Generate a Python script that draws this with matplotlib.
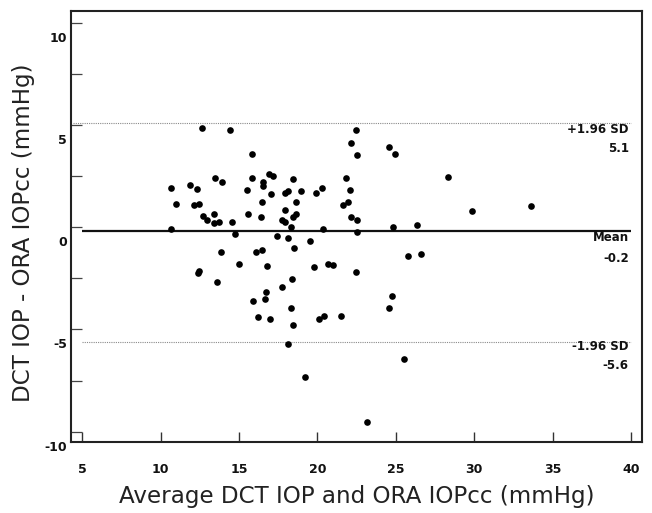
import matplotlib
matplotlib.use("Agg")
import matplotlib.pyplot as plt
from matplotlib.transforms import ScaledTranslation

# Bland-Altman data: average (x) and difference (y)
avg = [12.65, 14.44, 15.81, 15.84, 13.48, 13.89, 10.63, 11.90, 12.32, 15.49,
       10.98, 12.11, 12.46, 12.72, 12.97, 13.42, 13.38, 13.75, 14.56, 15.57,
       10.67, 14.73, 22.44, 22.14, 22.55, 16.92, 17.18, 16.50, 16.51, 18.42,
       21.82, 17.02, 18.09, 17.95, 18.96, 19.89, 20.29, 22.08, 16.44, 18.60,
       21.64, 21.92, 17.93, 16.40, 18.47, 18.63, 17.74, 17.93, 22.17, 22.50,
       18.31, 20.35, 22.50, 17.44, 18.09, 19.53, 24.58, 24.96, 28.32, 29.87,
       33.59, 24.84, 26.38, 13.85, 16.08, 16.46, 18.52, 15.02, 12.35, 12.46,
       13.59, 15.89, 16.21, 16.76, 19.78, 20.65, 21.01, 22.44, 18.40, 17.74,
       16.71, 16.65, 18.30, 16.97, 20.12, 20.42, 21.48, 18.42, 18.09, 19.21,
       25.76, 26.59, 24.76, 24.58, 25.50, 23.14]
diff = [4.85, 4.77, 3.56, 2.42, 2.38, 2.19, 1.91, 2.06, 1.88, 1.83,
        1.13, 1.09, 1.13, 0.56, 0.35, 0.63, 0.18, 0.27, 0.24, 0.63,
        -0.10, -0.35, 4.74, 4.10, 3.52, 2.59, 2.51, 2.20, 2.03, 2.36,
        2.40, 1.64, 1.79, 1.67, 1.78, 1.68, 1.91, 1.83, 1.25, 1.21,
        1.10, 1.22, 0.84, 0.51, 0.51, 0.62, 0.35, 0.24, 0.51, 0.35,
        0.00, -0.08, -0.25, -0.43, -0.53, -0.67, 3.91, 3.59, 2.46, 0.78,
        1.01, 0.00, 0.11, -1.23, -1.23, -1.11, -1.03, -1.81, -2.22, -2.16,
        -2.67, -3.61, -4.39, -1.88, -1.93, -1.81, -1.85, -2.18, -2.52, -2.91,
        -3.18, -3.51, -3.97, -4.50, -4.49, -4.33, -4.33, -4.80, -5.73, -7.34,
        -1.40, -1.30, -3.35, -3.97, -6.43, -9.51]

mean_diff = -0.2
upper_loa = 5.1
lower_loa = -5.6

x_ticks = [5, 10, 15, 20, 25, 30, 35, 40]
y_ticks = [-10, -7.5, -5, -2.5, 0, 2.5, 5, 7.5, 10]
y_ticklabels = ['-10', '', '-5', '', '0', '', '5', '', '10']

fig = plt.figure(figsize=(6.52, 5.13), dpi=100)
ax = fig.add_axes([0.1089, 0.139, 0.8762, 0.8396])

ax.set_xlim(4.28, 40.72)
ax.set_ylim(-10.49, 10.57)

# reference lines
ax.hlines(upper_loa, 4.4, 40, colors='#8a8a8a', linestyles=(0, (1, 1)), linewidth=0.8, zorder=1)
ax.hlines(lower_loa, 5, 40, colors='#8a8a8a', linestyles=(0, (1, 1)), linewidth=0.8, zorder=1)
ax.hlines(mean_diff, 5, 40, colors='#111111', linewidth=1.6, zorder=1)

ax.plot(avg, diff, 'o', color='black', markersize=4.8, markeredgewidth=0, zorder=3)

tfont = dict(fontsize=8.5, fontweight='bold', color='#111111', ha='right', va='center')
ax.text(39.85, 4.79, '+1.96 SD', **tfont)
ax.text(39.85, 3.84, f'{upper_loa:.1f}', **tfont)
ax.text(39.85, -0.50, 'Mean', **tfont)
ax.text(39.85, -1.52, f'{mean_diff:.1f}', **tfont)
ax.text(39.85, -5.83, '-1.96 SD', **tfont)
ax.text(39.85, -6.78, f'{lower_loa:.1f}', **tfont)

for s in ax.spines.values():
    s.set_linewidth(1.5)
    s.set_color('#222222')

ax.set_xticks(x_ticks)
ax.set_xticklabels([str(v) for v in x_ticks])
ax.set_yticks(y_ticks)
ax.set_yticklabels(y_ticklabels)
ax.tick_params(axis='x', direction='in', length=7.2, width=1.0, color='#333333', pad=15,
               labelsize=9)
ax.tick_params(axis='y', direction='in', length=8, width=0.9, color='#444444', pad=3,
               labelsize=9)
for lab in ax.get_xticklabels() + ax.get_yticklabels():
    lab.set_fontweight('bold')
    lab.set_color('#111111')
off = ScaledTranslation(0, -14 / 100, fig.dpi_scale_trans)
for lab in ax.get_yticklabels():
    lab.set_transform(lab.get_transform() + off)

ax.set_xlabel('Average DCT IOP and ORA IOPcc (mmHg)', fontsize=16.6, color='#222222')
ax.set_ylabel('DCT IOP - ORA IOPcc (mmHg)', fontsize=16.6, color='#222222')
ax.xaxis.set_label_coords(0.5, -0.100)
ax.yaxis.set_label_coords(-0.063, 0.4846)

fig.savefig('out.png', dpi=100)
